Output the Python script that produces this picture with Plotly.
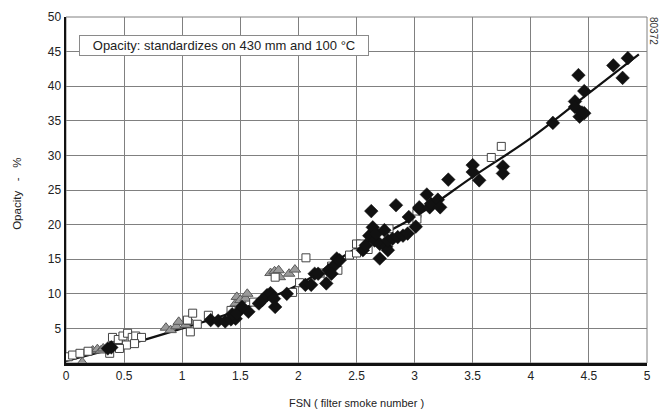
import plotly.graph_objects as go

# --- data ---
diamond_x = [0.36, 0.39, 1.245, 1.31, 1.37, 1.42, 1.46, 1.43, 1.47, 1.57, 1.515, 1.66, 1.69, 1.73,
             1.76, 1.79, 1.80, 1.90, 2.06, 2.11, 2.24, 2.26, 2.31, 2.14, 2.17, 2.285, 2.33, 2.355,
             2.555, 2.58, 2.61, 2.627, 2.64, 2.655, 2.67, 2.70, 2.70, 2.74, 2.755, 2.77, 2.77, 2.81,
             2.84, 2.855, 2.90, 2.94, 2.95, 3.01, 3.04, 3.04, 3.105, 3.13, 3.14, 3.20, 3.22, 3.29,
             3.50, 3.50, 3.556, 3.76, 3.76, 4.19, 4.38, 4.38, 4.41, 4.42, 4.44, 4.46, 4.46, 4.71,
             4.79, 4.835]
diamond_y = [2.1, 2.25, 6.2, 6.1, 6.0, 6.3, 6.4, 7.05, 7.15, 7.4, 8.1, 8.6, 9.1, 9.8,
             10.1, 9.3, 8.1, 10.0, 11.3, 11.3, 11.5, 13.4, 14.1, 12.9, 12.9, 12.9, 15.1, 14.85,
             16.3, 17.0, 18.4, 21.95, 19.6, 17.7, 18.7, 17.2, 15.1, 19.2, 16.8, 16.3, 17.7, 17.95,
             22.8, 18.2, 18.4, 18.7, 21.1, 19.7, 22.3, 22.5, 24.35, 22.5, 23.0, 23.6, 22.5, 26.5,
             28.6, 27.6, 26.4, 28.4, 27.4, 34.7, 37.8, 37.0, 41.6, 35.6, 36.2, 36.1, 39.3, 43.0,
             41.2, 44.05]

square_x = [0.02, 0.057, 0.12, 0.19, 0.376, 0.40, 0.45, 0.49, 0.53, 0.57, 0.60, 0.65, 0.52, 0.46,
            0.59, 1.045, 1.09, 1.07, 1.13, 1.225, 1.42, 1.615, 1.80, 1.95, 2.01, 2.065, 2.20, 2.256,
            2.285, 2.34, 2.44, 2.50, 2.50, 2.535, 2.60, 2.73, 2.78, 3.02, 3.02, 3.66, 3.746]
square_y = [0.9, 1.15, 1.4, 1.7, 1.4, 3.7, 3.4, 3.9, 4.3, 3.7, 3.9, 3.7, 2.6, 2.1,
            2.8, 6.2, 7.2, 4.5, 5.6, 6.9, 7.6, 8.8, 12.4, 10.2, 11.6, 15.2, 13.0, 12.7,
            14.0, 13.4, 15.6, 15.9, 17.2, 17.2, 16.4, 18.2, 19.4, 21.6, 20.8, 29.7, 31.3]

triangle_x = [0.14, 0.23, 0.27, 0.30, 0.32, 0.40, 0.86, 0.90, 0.95, 0.97, 1.03, 1.07, 1.46, 1.47,
              1.50, 1.545, 1.56, 1.76, 1.795, 1.83, 1.84, 1.92, 1.97]
triangle_y = [0.1, 1.8, 2.0, 1.8, 2.1, 2.8, 5.1, 4.75, 5.3, 5.95, 5.5, 5.95, 8.6, 9.55,
              9.1, 9.3, 10.0, 13.0, 13.25, 13.4, 12.4, 12.9, 13.5]

curve_x = [0.0, 0.5, 1.0, 1.5, 2.0, 2.5, 3.0, 3.5, 4.0, 4.5, 4.93]
curve_y = [0.3, 2.5, 5.0, 7.7, 11.3, 16.6, 21.1, 26.9, 32.5, 39.0, 44.6]

x_ticks = [0, 0.5, 1, 1.5, 2, 2.5, 3, 3.5, 4, 4.5, 5]
y_ticks = [5, 10, 15, 20, 25, 30, 35, 40, 45, 50]

note_text = "Opacity: standardizes on 430 mm and 100 °C"
x_title = "FSN ( filter smoke number )"
y_title = "Opacity\u00a0\u00a0\u00a0-\u00a0\u00a0\u00a0%"
code_text = "80372"

FONT = "Liberation Sans, Arial, sans-serif"

fig = go.Figure()
fig.add_trace(go.Scatter(x=curve_x, y=curve_y, mode="lines", line=dict(color="#111111", width=2.2, shape="spline"),
                         hoverinfo="skip", showlegend=False))
fig.add_trace(go.Scatter(x=triangle_x, y=triangle_y, mode="markers", showlegend=False,
                         marker=dict(symbol="triangle-up", size=10, color="#9a9a9a",
                                     line=dict(color="#5a5a5a", width=1))))
fig.add_trace(go.Scatter(x=square_x, y=square_y, mode="markers", showlegend=False,
                         marker=dict(symbol="square", size=8, color="white",
                                     line=dict(color="#444444", width=1))))
fig.add_trace(go.Scatter(x=diamond_x, y=diamond_y, mode="markers", showlegend=False,
                         marker=dict(symbol="diamond", size=10.5, color="#111111",
                                     line=dict(color="#111111", width=0.5))))

fig.update_layout(
    width=661, height=412,
    margin=dict(l=66, r=10, t=16, b=49),
    paper_bgcolor="white", plot_bgcolor="white",
    font=dict(family=FONT, size=12, color="#222222"),
    xaxis=dict(range=[0, 5], tickvals=x_ticks, ticktext=[f"{v:g}" for v in x_ticks],
               showgrid=True, gridcolor="#808080", gridwidth=1, zeroline=False,
               showline=True, linecolor="#111111", linewidth=2.5, ticks="", ticklen=0,
               tickfont=dict(size=12), fixedrange=True),
    yaxis=dict(range=[0, 50], tickvals=y_ticks, ticktext=[str(v) for v in y_ticks],
               showgrid=True, gridcolor="#808080", gridwidth=1, zeroline=False,
               showline=True, linecolor="#111111", linewidth=2.5, ticks="", ticklen=0,
               tickfont=dict(size=12), fixedrange=True),
    shapes=[dict(type="rect", xref="paper", yref="paper", x0=0, y0=0, x1=1, y1=1,
                 line=dict(color="#808080", width=1), layer="below")],
    annotations=[
        dict(text=note_text, x=0.111, y=45.9, xref="x", yref="y", xanchor="left", yanchor="middle",
             showarrow=False, bgcolor="white", bordercolor="#8a8a8a", borderwidth=1, borderpad=2,
             width=284, align="center",
             font=dict(size=13, color="#222222")),
        dict(text=x_title, x=0.5, y=(363 - 403) / 347.0, xref="paper", yref="paper",
             xanchor="center", yanchor="middle", showarrow=False,
             font=dict(size=11, color="#222222")),
        dict(text=code_text, x=(657 - 66) / 585.0, y=(363 - 30) / 347.0, xref="paper", yref="paper",
             xanchor="center", yanchor="middle", showarrow=False,
             textangle=90, font=dict(size=10, color="#333333")),
        dict(text=y_title, x=(17 - 66) / 585.0, y=(363 - 193) / 347.0, xref="paper", yref="paper",
             xanchor="center", yanchor="middle", showarrow=False,
             textangle=-90, font=dict(size=11.5, color="#222222")),
    ],
)

fig.write_html("out.html", config={"displayModeBar": False, "staticPlot": True},
               post_script="document.body.style.margin='0';document.body.style.padding='0';"
                           "document.body.style.overflow='hidden';")
